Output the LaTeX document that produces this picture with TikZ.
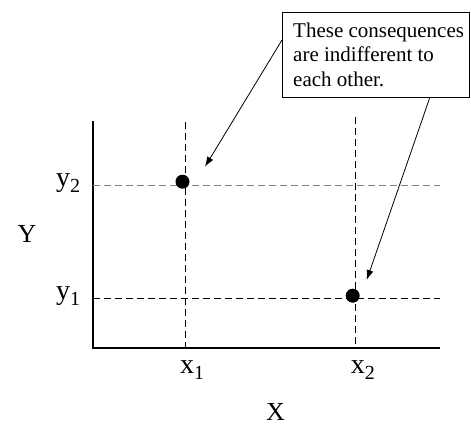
\documentclass[tikz,border=0pt]{standalone}
\usepackage{fontspec}
\setmainfont{Liberation Serif}
\usetikzlibrary{arrows.meta}
\newcommand{\lbl}[2]{#1\raisebox{-6.5pt}{\fontsize{20}{20}\selectfont #2}}
\tikzset{
  axisline/.style={line width=1.2pt},
  guide/.style={line width=0.9pt, dash pattern=on 7pt off 4pt},
  dotmark/.style={circle, fill=black, inner sep=0pt, minimum size=14pt},
  callout/.style={-{Latex[length=10pt,width=7pt]}, line width=0.8pt},
  biglbl/.style={font=\fontsize{26}{26}\selectfont, inner sep=0pt},
  sublbl/.style={font=\fontsize{28}{28}\selectfont, inner sep=0pt},
}
\begin{document}
\begin{tikzpicture}[x=1pt,y=-1pt]
\useasboundingbox (0,0) rectangle (471,426);
\coordinate (top) at (93,121);
\coordinate (o) at (93,348);
\coordinate (r) at (440,348);
\draw[axisline] (top) -- (o) -- (r);
\draw[guide, gray] (93,185) -- (440,185);
\draw[guide] (93,298) -- (440,298);
\draw[guide] (185,122) -- (185,348);
\draw[guide] (355,117) -- (355,348);
\node[dotmark] (d1) at (182.5,181.7) {};
\node[dotmark] (d2) at (352.7,295.7) {};
\node[draw, line width=0.8pt, anchor=north west, minimum width=187pt, minimum height=85pt, inner sep=0pt] (box) at (282,12) {};
\node[anchor=base west, inner sep=0pt, font=\fontsize{21}{24.5}\selectfont] (t1) at (293,37.3) {These consequences};
\node[anchor=base west, inner sep=0pt, font=\fontsize{21}{24.5}\selectfont] (t2) at (293,61.8) {are indifferent to};
\node[anchor=base west, inner sep=0pt, font=\fontsize{21}{24.5}\selectfont] (t3) at (293,86.3) {each other.};
\coordinate (s1) at (282,40);
\coordinate (e1) at (205,166.7);
\coordinate (s2) at (430,97);
\coordinate (e2) at (366.7,280);
\draw[callout] (s1) -- (e1);
\draw[callout] (s2) -- (e2);
\node[sublbl, anchor=base west] (ly2) at (56,186) {\lbl{y}{2}};
\node[sublbl, anchor=base west] (ly1) at (56,299) {\lbl{y}{1}};
\node[sublbl, anchor=base west] (lx1) at (180,373.3) {\lbl{x}{1}};
\node[sublbl, anchor=base west] (lx2) at (350.7,373.3) {\lbl{x}{2}};
\node[biglbl, anchor=base west] (lY) at (17.3,242.3) {Y};
\node[biglbl, anchor=base west] (lX) at (266,420.5) {X};
\end{tikzpicture}
\end{document}
